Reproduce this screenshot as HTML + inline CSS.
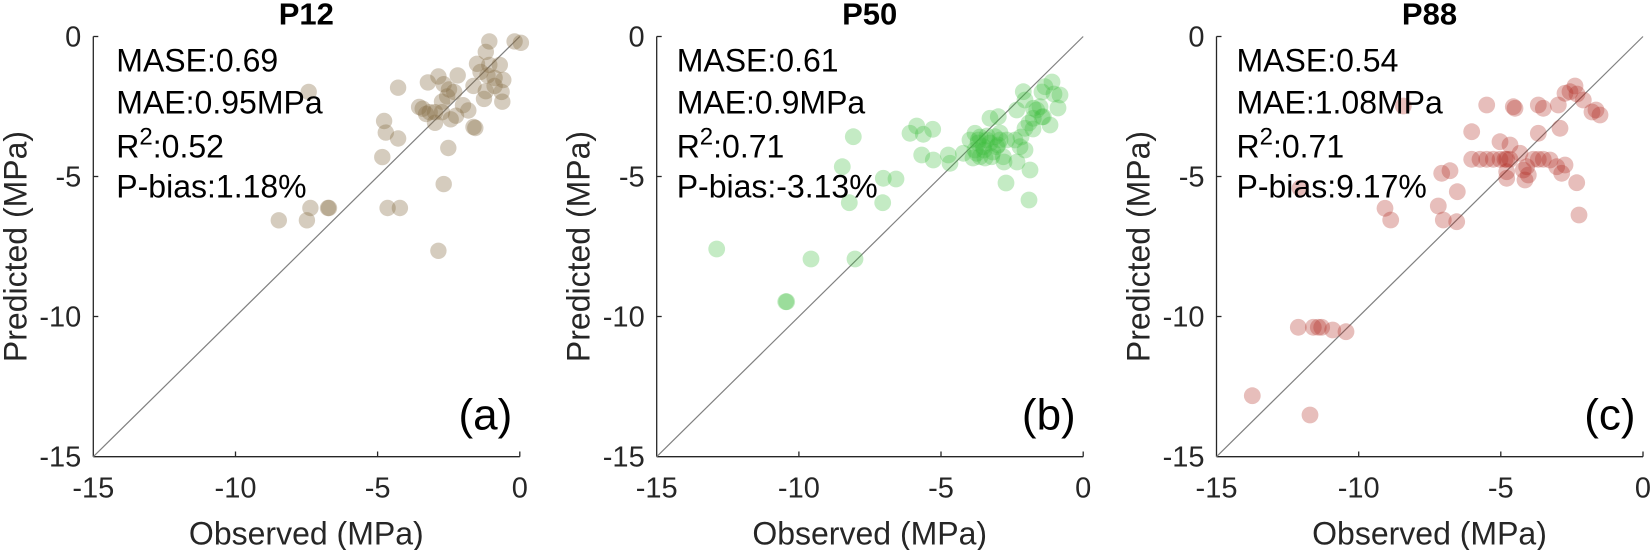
<!DOCTYPE html>
<html><head><meta charset="utf-8"><style>
html,body{margin:0;padding:0;background:#fff;}
svg{display:block;font-family:"Liberation Sans",Arial,sans-serif;}
</style></head><body>
<svg width="1650" height="550" viewBox="0 0 1650 550" xmlns="http://www.w3.org/2000/svg">
<defs>
<g id="axes">
  <line x1="0" y1="0" x2="0" y2="420.2" stroke="#262626" stroke-width="1.3"/>
  <line x1="0" y1="420.2" x2="426.5" y2="420.2" stroke="#262626" stroke-width="1.3"/>
  <line x1="0" y1="420.2" x2="426.5" y2="0" stroke="#808080" stroke-width="1.2"/>
  <g stroke="#262626" stroke-width="1.3">
    <line x1="0" y1="0" x2="5" y2="0"/><line x1="0" y1="140" x2="5" y2="140"/><line x1="0" y1="280" x2="5" y2="280"/>
    <line x1="142.2" y1="420.2" x2="142.2" y2="415"/><line x1="284.3" y1="420.2" x2="284.3" y2="415"/><line x1="426.5" y1="420.2" x2="426.5" y2="415"/>
  </g>
  <g font-size="29" fill="#262626" text-anchor="end">
    <text x="-12" y="10">0</text><text x="-12" y="150">-5</text><text x="-12" y="290">-10</text><text x="-12" y="430">-15</text>
  </g>
  <g font-size="29" fill="#262626" text-anchor="middle">
    <text x="0" y="461">-15</text><text x="142.2" y="461">-10</text><text x="284.3" y="461">-5</text><text x="426.5" y="461">0</text>
  </g>
  <text x="213" y="508" font-size="32" fill="#262626" text-anchor="middle">Observed (MPa)</text>
  <text transform="translate(-67,210) rotate(-90)" font-size="32" fill="#262626" text-anchor="middle">Predicted (MPa)</text>
</g>
</defs>

<!-- Panel 1 -->
<g transform="translate(93.3,36.5)"><use href="#axes"/></g>
<g fill="rgb(135,110,70)" fill-opacity="0.35">
<circle cx="489.3" cy="41.4" r="8.2"/><circle cx="514.6" cy="41.4" r="8.2"/><circle cx="520.9" cy="42.8" r="8.2"/><circle cx="485.8" cy="51.9" r="8.2"/><circle cx="477" cy="63.8" r="8.2"/><circle cx="489.3" cy="64.9" r="8.2"/><circle cx="499.8" cy="64.9" r="8.2"/><circle cx="480.5" cy="71.9" r="8.2"/><circle cx="487.5" cy="75.4" r="8.2"/><circle cx="494.6" cy="77.9" r="8.2"/><circle cx="503.3" cy="80" r="8.2"/><circle cx="494.6" cy="85.9" r="8.2"/><circle cx="485.8" cy="91.2" r="8.2"/><circle cx="501.6" cy="91.9" r="8.2"/><circle cx="502.3" cy="101.7" r="8.2"/><circle cx="484" cy="98.9" r="8.2"/><circle cx="473.5" cy="85.9" r="8.2"/><circle cx="457.7" cy="75.4" r="8.2"/><circle cx="438.4" cy="76.5" r="8.2"/><circle cx="427.9" cy="82.4" r="8.2"/><circle cx="443.7" cy="84.2" r="8.2"/><circle cx="449" cy="89.4" r="8.2"/><circle cx="454.2" cy="91.9" r="8.2"/><circle cx="447.2" cy="96.5" r="8.2"/><circle cx="442" cy="101.7" r="8.2"/><circle cx="463" cy="105.2" r="8.2"/><circle cx="468.3" cy="110.5" r="8.2"/><circle cx="456" cy="115.7" r="8.2"/><circle cx="473.5" cy="127" r="8.2"/><circle cx="475.3" cy="128" r="8.2"/><circle cx="450.7" cy="119.3" r="8.2"/><circle cx="442" cy="112.2" r="8.2"/><circle cx="435" cy="112.2" r="8.2"/><circle cx="429.7" cy="112.2" r="8.2"/><circle cx="422.7" cy="108.7" r="8.2"/><circle cx="419.1" cy="107" r="8.2"/><circle cx="426.1" cy="114" r="8.2"/><circle cx="435" cy="122.8" r="8.2"/><circle cx="448.3" cy="148" r="8.2"/><circle cx="443.7" cy="184.1" r="8.2"/><circle cx="438.4" cy="250.8" r="8.2"/><circle cx="398.1" cy="87.7" r="8.2"/><circle cx="384.1" cy="121" r="8.2"/><circle cx="385.8" cy="132.6" r="8.2"/><circle cx="398.1" cy="138.5" r="8.2"/><circle cx="382.3" cy="157.1" r="8.2"/><circle cx="387.6" cy="208" r="8.2"/><circle cx="399.9" cy="208" r="8.2"/><circle cx="308.7" cy="91.9" r="8.2"/><circle cx="310.4" cy="208" r="8.2"/><circle cx="328" cy="208" r="8.2"/><circle cx="329" cy="208" r="8.2"/><circle cx="306.9" cy="220.3" r="8.2"/><circle cx="278.8" cy="220.3" r="8.2"/>
</g>
<g transform="translate(93.3,36.5)">
<text x="213" y="-12" font-size="31" font-weight="bold" text-anchor="middle">P12</text>
<g font-size="32" fill="#000"><text x="23" y="35">MASE:0.69</text><text x="23" y="77">MAE:0.95MPa</text><text x="23" y="121">R<tspan dy="-13" font-size="24">2</tspan><tspan dy="13">:0.52</tspan></text><text x="23" y="161">P-bias:1.18%</text></g>
<text x="419" y="393" font-size="44" text-anchor="end">(a)</text>
</g>

<!-- Panel 2 -->
<g transform="translate(656.7,36.5)"><use href="#axes"/></g>
<g fill="rgb(60,190,60)" fill-opacity="0.3">
<circle cx="716.7" cy="249" r="8.4"/><circle cx="785.7" cy="301.7" r="8.4"/><circle cx="786.7" cy="301.7" r="8.4"/><circle cx="811" cy="259" r="8.4"/><circle cx="855" cy="259" r="8.4"/><circle cx="853.3" cy="136.7" r="8.4"/><circle cx="842.3" cy="166.7" r="8.4"/><circle cx="849.3" cy="202.7" r="8.4"/><circle cx="882.7" cy="202.7" r="8.4"/><circle cx="883.3" cy="178.3" r="8.4"/><circle cx="896" cy="179" r="8.4"/><circle cx="910" cy="133.3" r="8.4"/><circle cx="916.7" cy="126" r="8.4"/><circle cx="923.3" cy="134.3" r="8.4"/><circle cx="932.7" cy="129.3" r="8.4"/><circle cx="921.7" cy="155" r="8.4"/><circle cx="933.3" cy="160" r="8.4"/><circle cx="948.3" cy="155" r="8.4"/><circle cx="950" cy="163.3" r="8.4"/><circle cx="963.3" cy="153.3" r="8.4"/><circle cx="975" cy="133.3" r="8.4"/><circle cx="976.7" cy="153.3" r="8.4"/><circle cx="978.3" cy="140" r="8.4"/><circle cx="983.3" cy="146.7" r="8.4"/><circle cx="986.7" cy="140" r="8.4"/><circle cx="990" cy="118.3" r="8.4"/><circle cx="998.3" cy="116.7" r="8.4"/><circle cx="995" cy="136.7" r="8.4"/><circle cx="996.7" cy="146.7" r="8.4"/><circle cx="1000" cy="140" r="8.4"/><circle cx="1003.3" cy="156.7" r="8.4"/><circle cx="1006.7" cy="140" r="8.4"/><circle cx="1015" cy="140" r="8.4"/><circle cx="1020" cy="146.7" r="8.4"/><circle cx="1030" cy="170" r="8.4"/><circle cx="1025" cy="128.3" r="8.4"/><circle cx="1016.7" cy="110" r="8.4"/><circle cx="1023.3" cy="91.7" r="8.4"/><circle cx="1033.3" cy="108.3" r="8.4"/><circle cx="1040" cy="106.7" r="8.4"/><circle cx="1045" cy="86.7" r="8.4"/><circle cx="1036.7" cy="110" r="8.4"/><circle cx="1043.3" cy="116.7" r="8.4"/><circle cx="1033.3" cy="118.3" r="8.4"/><circle cx="970" cy="140" r="8.4"/><circle cx="980" cy="156.7" r="8.4"/><circle cx="991.7" cy="156.7" r="8.4"/><circle cx="1042" cy="92" r="8.4"/><circle cx="1054" cy="94" r="8.4"/><circle cx="1025" cy="100" r="8.4"/><circle cx="1042" cy="117" r="8.4"/><circle cx="1029" cy="123" r="8.4"/><circle cx="1050" cy="125" r="8.4"/><circle cx="1033" cy="129" r="8.4"/><circle cx="1021" cy="137" r="8.4"/><circle cx="1025" cy="150" r="8.4"/><circle cx="1017" cy="162" r="8.4"/><circle cx="1004" cy="162" r="8.4"/><circle cx="1029" cy="200" r="8.4"/><circle cx="1006" cy="183" r="8.4"/><circle cx="1060" cy="95" r="8.4"/><circle cx="1058" cy="108" r="8.4"/><circle cx="1052" cy="82" r="8.4"/>
<circle cx="978" cy="143" r="8.4"/><circle cx="984" cy="150" r="8.4"/><circle cx="990" cy="143" r="8.4"/><circle cx="975" cy="150" r="8.4"/><circle cx="993" cy="152" r="8.4"/><circle cx="987" cy="136" r="8.4"/><circle cx="980" cy="137" r="8.4"/><circle cx="998" cy="145" r="8.4"/><circle cx="973" cy="158" r="8.4"/><circle cx="985" cy="158" r="8.4"/><circle cx="1000" cy="133" r="8.4"/>
</g>
<g transform="translate(656.7,36.5)">
<text x="213" y="-12" font-size="31" font-weight="bold" text-anchor="middle">P50</text>
<g font-size="32" fill="#000"><text x="20" y="35">MASE:0.61</text><text x="20" y="77">MAE:0.9MPa</text><text x="20" y="121">R<tspan dy="-13" font-size="24">2</tspan><tspan dy="13">:0.71</tspan></text><text x="20" y="161">P-bias:-3.13%</text></g>
<text x="419" y="393" font-size="44" text-anchor="end">(b)</text>
</g>

<!-- Panel 3 -->
<g transform="translate(1216.5,36.5)"><use href="#axes"/></g>
<g fill="rgb(175,40,30)" fill-opacity="0.3">
<circle cx="1252.3" cy="395.7" r="8.4"/><circle cx="1310" cy="415" r="8.4"/><circle cx="1298.3" cy="327.3" r="8.4"/><circle cx="1313.3" cy="327.3" r="8.4"/><circle cx="1318.3" cy="327.3" r="8.4"/><circle cx="1321.7" cy="327.3" r="8.4"/><circle cx="1332.7" cy="330" r="8.4"/><circle cx="1346" cy="331.7" r="8.4"/><circle cx="1385" cy="208.3" r="8.4"/><circle cx="1390.7" cy="220" r="8.4"/><circle cx="1403.3" cy="106" r="8.4"/><circle cx="1300" cy="188.3" r="8.4"/><circle cx="1441.7" cy="173.3" r="8.4"/><circle cx="1450" cy="170.7" r="8.4"/><circle cx="1457.3" cy="191.7" r="8.4"/><circle cx="1438.3" cy="206" r="8.4"/><circle cx="1443.3" cy="220" r="8.4"/><circle cx="1456.7" cy="221.7" r="8.4"/><circle cx="1471.7" cy="131.7" r="8.4"/><circle cx="1471.7" cy="159.3" r="8.4"/><circle cx="1480" cy="159.3" r="8.4"/><circle cx="1486.7" cy="159.3" r="8.4"/><circle cx="1493.3" cy="159.3" r="8.4"/><circle cx="1500" cy="159.3" r="8.4"/><circle cx="1505" cy="159.3" r="8.4"/><circle cx="1506.7" cy="159.3" r="8.4"/><circle cx="1510" cy="159.3" r="8.4"/><circle cx="1500" cy="141.7" r="8.4"/><circle cx="1510" cy="145" r="8.4"/><circle cx="1506.7" cy="171.7" r="8.4"/><circle cx="1506.7" cy="178.3" r="8.4"/><circle cx="1520" cy="153.3" r="8.4"/><circle cx="1523.3" cy="170" r="8.4"/><circle cx="1525" cy="180" r="8.4"/><circle cx="1526.7" cy="166.7" r="8.4"/><circle cx="1528.3" cy="175" r="8.4"/><circle cx="1533.3" cy="159.3" r="8.4"/><circle cx="1538.3" cy="159.3" r="8.4"/><circle cx="1543.3" cy="159.3" r="8.4"/><circle cx="1538.3" cy="133.3" r="8.4"/><circle cx="1543.3" cy="108.3" r="8.4"/><circle cx="1550" cy="160" r="8.4"/><circle cx="1556.7" cy="166.7" r="8.4"/><circle cx="1561.7" cy="173.3" r="8.4"/><circle cx="1565" cy="165" r="8.4"/><circle cx="1576.7" cy="182.7" r="8.4"/><circle cx="1560" cy="128.3" r="8.4"/><circle cx="1558.3" cy="105" r="8.4"/><circle cx="1538.3" cy="105" r="8.4"/><circle cx="1515" cy="108.3" r="8.4"/><circle cx="1513.3" cy="106.7" r="8.4"/><circle cx="1486.7" cy="105" r="8.4"/><circle cx="1565" cy="93.3" r="8.4"/><circle cx="1575" cy="86" r="8.4"/><circle cx="1570" cy="91.7" r="8.4"/><circle cx="1583.3" cy="100" r="8.4"/><circle cx="1592" cy="112" r="8.4"/><circle cx="1600" cy="115" r="8.4"/><circle cx="1577" cy="94" r="8.4"/><circle cx="1596" cy="110" r="8.4"/><circle cx="1579" cy="215" r="8.4"/>
</g>
<g transform="translate(1216.5,36.5)">
<text x="213" y="-12" font-size="31" font-weight="bold" text-anchor="middle">P88</text>
<g font-size="32" fill="#000"><text x="20" y="35">MASE:0.54</text><text x="20" y="77">MAE:1.08MPa</text><text x="20" y="121">R<tspan dy="-13" font-size="24">2</tspan><tspan dy="13">:0.71</tspan></text><text x="20" y="161">P-bias:9.17%</text></g>
<text x="419" y="393" font-size="44" text-anchor="end">(c)</text>
</g>
</svg>
</body></html>
